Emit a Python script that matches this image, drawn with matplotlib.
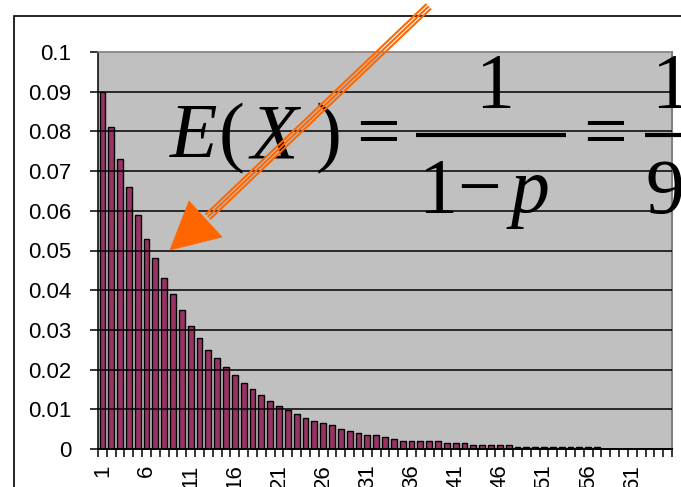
import numpy as np
import matplotlib
matplotlib.use("Agg")
import matplotlib.pyplot as plt
from matplotlib.patches import Rectangle, Polygon
from matplotlib.lines import Line2D

# P(X = k) for k = 1..65
probs = [0.09, 0.081, 0.073, 0.066, 0.059, 0.053, 0.048, 0.043, 0.039, 0.035,
         0.031, 0.028, 0.025, 0.023, 0.0206, 0.0186, 0.0167, 0.015, 0.0135, 0.0121,
         0.0109, 0.0099, 0.0087, 0.0077, 0.0071, 0.0066, 0.006, 0.0051, 0.0046, 0.0041,
         0.0036, 0.0036, 0.0031, 0.0025, 0.002, 0.002, 0.002, 0.002, 0.002, 0.0015,
         0.0015, 0.0015, 0.001, 0.001, 0.001, 0.001, 0.001, 0.0005, 0.0005, 0.0005,
         0.0005, 0.0005, 0.0005, 0.0005, 0.0005, 0.0005, 0.0005, 0, 0, 0,
         0, 0, 0, 0, 0]
k_values = list(range(1, len(probs) + 1))
x_labels = [1, 6, 11, 16, 21, 26, 31, 36, 41, 46, 51, 56, 61]
y_ticks = [0, 0.01, 0.02, 0.03, 0.04, 0.05, 0.06, 0.07, 0.08, 0.09, 0.1]

W, H = 681, 487
fig = plt.figure(figsize=(W / 100, H / 100), dpi=100)


def fx(px):
    return px / W


def fy(py):
    return 1 - py / H


# outer chart frame (runs off the right and bottom edges)
fig.patches.append(Rectangle((fx(14), fy(560)), fx(760) - fx(14), fy(16) - fy(560),
                             transform=fig.transFigure, fill=False,
                             edgecolor='black', linewidth=1.2, zorder=0))

ax = fig.add_axes([fx(98), fy(449), fx(672) - fx(98), fy(52) - fy(449)])
ax.set_facecolor('#C0C0C0')

ax.bar(k_values, probs, width=0.66, color='#993366', edgecolor='black',
       linewidth=1.0, zorder=2)

for t in y_ticks:
    if 0 < t < 0.1:
        ax.axhline(t, color='black', linewidth=1.1, zorder=3)

ax.set_xlim(0.5, len(probs) + 0.5)
ax.set_ylim(0, 0.1)

ax.set_yticks(y_ticks)
ax.set_yticklabels([f"{t:g}" for t in y_ticks])
ax.set_xticks(x_labels)
ax.set_xticklabels([str(v) for v in x_labels], rotation=90)
ax.set_xticks(np.arange(0.5, len(probs) + 1, 1.0), minor=True)

ax.tick_params(axis='x', which='major', length=0, pad=11)
ax.tick_params(axis='x', which='minor', length=6, width=1.1, direction='out')
ax.tick_params(axis='y', length=6, width=1.1, direction='out', pad=13)
for lab in ax.get_xticklabels() + ax.get_yticklabels():
    lab.set_fontfamily('Liberation Sans')
    lab.set_fontsize(16)

ax.spines['left'].set_color('black')
ax.spines['left'].set_linewidth(1.1)
ax.spines['bottom'].set_color('black')
ax.spines['bottom'].set_linewidth(1.4)
ax.spines['bottom'].set_zorder(4)
ax.spines['top'].set_color('#808080')
ax.spines['right'].set_color('#808080')
ax.spines['top'].set_linewidth(1.2)
ax.spines['right'].set_linewidth(1.5)

# formula E(X) = 1/(1-p) = 1/9
serif = 'Liberation Serif'
fs = 56


def put(s, x, y, italic=False, ha='left'):
    fig.text(fx(x), fy(y), s, fontsize=fs, fontfamily=serif,
             fontstyle='italic' if italic else 'normal',
             ha=ha, va='baseline', color='black', zorder=5)


put('E', 170, 157, italic=True)
put('(', 219, 157)
put('X', 251, 157, italic=True)
put(')', 316, 157)
put('=', 356, 157)
put('1', 475, 107)
put('1', 418, 212)
put('\u2212', 479, 212, ha='center')
put('p', 511, 212, italic=True)
put('=', 583, 157)
put('1', 651, 107)
put('9', 646, 213)
for x0, x1 in [(416, 566), (645, 700)]:
    fig.lines.append(Line2D([fx(x0), fx(x1)], [fy(134.5), fy(134.5)],
                            transform=fig.transFigure, color='black',
                            linewidth=3.0, solid_capstyle='butt', zorder=5))

# orange arrow with a triple-line shaft
orange = '#FF6600'
start = np.array([428.0, 7.0])
tip = np.array([170.0, 250.0])
corner_a = np.array([189.0, 201.0])
corner_b = np.array([222.0, 237.0])
base_mid = (corner_a + corner_b) / 2
d = base_mid - start
d = d / np.hypot(*d)
n = np.array([-d[1], d[0]])
for off in (-3.2, 0.0, 3.2):
    p0 = start + n * off
    p1 = base_mid + n * off - d * 4
    fig.lines.append(Line2D([fx(p0[0]), fx(p1[0])], [fy(p0[1]), fy(p1[1])],
                            transform=fig.transFigure, color=orange,
                            linewidth=1.5, zorder=6))
fig.patches.append(Polygon([(fx(tip[0]), fy(tip[1])),
                            (fx(corner_a[0]), fy(corner_a[1])),
                            (fx(corner_b[0]), fy(corner_b[1]))],
                           closed=True, transform=fig.transFigure,
                           facecolor=orange, edgecolor=orange, linewidth=0.5,
                           zorder=6))

fig.savefig('out.png', dpi=100)
